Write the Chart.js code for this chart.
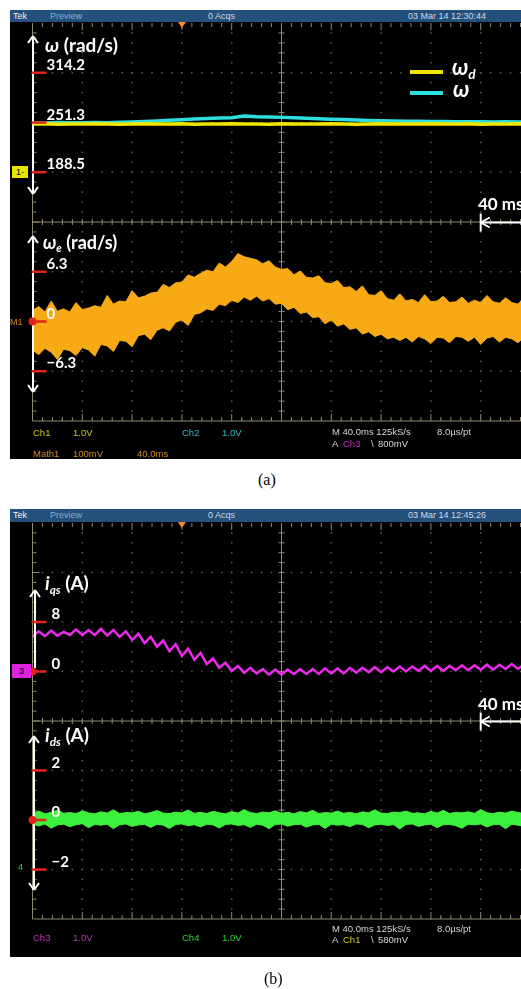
<!DOCTYPE html>
<html>
<head>
<meta charset="utf-8">
<title>Scope captures</title>
<script src="https://cdn.jsdelivr.net/npm/chart.js@4.4.1/dist/chart.umd.min.js"></script>
<style>
  html, body { margin: 0; padding: 0; }
  body { width: 521px; height: 989px; overflow: hidden; position: relative; background: #fff; font-family: "Liberation Sans", Arial, sans-serif; }
  .abs { position: absolute; white-space: nowrap; line-height: 1; }
  .panel { position: absolute; left: 10px; width: 511px; background: #000; }
  .hdr { position: absolute; left: 10px; width: 511px; height: 12px; background: #24507c; }
  .hdr span { position: absolute; top: 0; font-size: 9px; line-height: 12px; color: #cfd9e4; white-space: nowrap; }
  canvas { position: absolute; left: 0; }
  .lab { font-family: Lato, "Open Sans", sans-serif; font-weight: bold; color: #fff; }
  .lab sub { font-size: 0.62em; vertical-align: -0.3em; line-height: 0; }
  .st { font-size: 9.5px; color: #d6d6d6; }
  .cap { font-family: "Liberation Serif", "Times New Roman", serif; font-size: 16px; color: #000; }
</style>
</head>
<body>
<div class="panel" style="top:10px;height:449px"></div>
<div class="hdr" style="top:10px">
  <span style="left:3px;color:#eef3f8">Tek</span>
  <span style="left:40px;color:#86acd2">Preview</span>
  <span style="left:198px">0 Acqs</span>
  <span style="left:398px">03 Mar 14 12:30:44</span>
</div>
<div class="panel" style="top:509px;height:448px"></div>
<div class="hdr" style="top:509px;height:13px">
  <span style="left:3px;color:#eef3f8">Tek</span>
  <span style="left:40px;color:#86acd2">Preview</span>
  <span style="left:198px">0 Acqs</span>
  <span style="left:398px">03 Mar 14 12:45:26</span>
</div>

<canvas id="chartA" width="540" height="470" style="top:0"></canvas>
<canvas id="chartB" width="540" height="470" style="top:500px"></canvas>

<!-- panel (a) labels -->
<div class="abs lab" style="left:45px;top:35px;font-size:19px"><i>ω</i> (rad/s)</div>
<div class="abs" style="left:410px;top:70px;width:33px;height:4px;background:#f0e600"></div>
<div class="abs lab" style="left:452px;top:56px;font-size:22px"><i>ω<sub>d</sub></i></div>
<div class="abs" style="left:410px;top:91px;width:33px;height:4px;background:#2fdede"></div>
<div class="abs lab" style="left:453px;top:78px;font-size:22px"><i>ω</i></div>
<div class="abs" style="left:12px;top:166px;width:16px;height:12px;background:#e6e600;color:#000;font-size:9px;line-height:12px;text-align:center">1-</div>
<div class="abs lab" style="left:478px;top:195px;font-size:17px">40 ms</div>
<div class="abs lab" style="left:43px;top:233px;font-size:18px"><i>ω<sub>e</sub></i> (rad/s)</div>
<div class="abs st" style="left:10px;top:318px;font-size:9px;color:#e08a1c">M1</div>
<div class="abs st" style="left:33px;top:428px;color:#c9c92a">Ch1</div>
<div class="abs st" style="left:73px;top:428px;color:#c9c92a">1.0V</div>
<div class="abs st" style="left:182px;top:428px;color:#2cbcc8">Ch2</div>
<div class="abs st" style="left:222px;top:428px;color:#2cbcc8">1.0V</div>
<div class="abs st" style="left:332px;top:427px">M 40.0ms 125kS/s</div>
<div class="abs st" style="left:437px;top:427px">8.0µs/pt</div>
<div class="abs st" style="left:332px;top:439px">A</div>
<div class="abs st" style="left:343px;top:439px;color:#c62fc6">Ch3</div>
<div class="abs st" style="left:371px;top:439px">\</div>
<div class="abs st" style="left:378px;top:439px">800mV</div>
<div class="abs st" style="left:33px;top:449px;color:#d48c22">Math1</div>
<div class="abs st" style="left:73px;top:449px;color:#d48c22">100mV</div>
<div class="abs st" style="left:137px;top:449px;color:#d48c22">40.0ms</div>
<div class="abs cap" style="left:258px;top:472px">(a)</div>

<!-- panel (b) labels -->
<div class="abs lab" style="left:45px;top:573px;font-size:19px"><i>i<sub>qs</sub></i> (A)</div>
<div class="abs" style="left:12px;top:664px;width:19px;height:14px;background:#e020e0;color:#000;font-size:9px;line-height:14px;text-align:center">3</div>
<div class="abs lab" style="left:478px;top:695px;font-size:17px">40 ms</div>
<div class="abs lab" style="left:45px;top:725px;font-size:19px"><i>i<sub>ds</sub></i> (A)</div>
<div class="abs st" style="left:18px;top:863px;font-size:9px;color:#2ed82e">4</div>
<div class="abs st" style="left:33px;top:933px;color:#c62fc6">Ch3</div>
<div class="abs st" style="left:73px;top:933px;color:#c62fc6">1.0V</div>
<div class="abs st" style="left:182px;top:933px;color:#2ed82e">Ch4</div>
<div class="abs st" style="left:222px;top:933px;color:#2ed82e">1.0V</div>
<div class="abs st" style="left:332px;top:924px">M 40.0ms 125kS/s</div>
<div class="abs st" style="left:437px;top:924px">8.0µs/pt</div>
<div class="abs st" style="left:332px;top:935px">A</div>
<div class="abs st" style="left:343px;top:935px;color:#c9c92a">Ch1</div>
<div class="abs st" style="left:371px;top:935px">\</div>
<div class="abs st" style="left:378px;top:935px">580mV</div>
<div class="abs cap" style="left:264px;top:971px">(b)</div>

<script>
// sample times (ms), 10 divisions of 40 ms
const timeFine = [0, 5, 10, 15, 20, 25, 30, 35, 40, 45,
  50, 55, 60, 65, 70, 75, 80, 85, 90, 95,
  100, 105, 110, 115, 120, 125, 130, 135, 140, 145,
  150, 155, 160, 165, 170, 175, 180, 185, 190, 195,
  200, 205, 210, 215, 220, 225, 230, 235, 240, 245,
  250, 255, 260, 265, 270, 275, 280, 285, 290, 295,
  300, 305, 310, 315, 320, 325, 330, 335, 340, 345,
  350, 355, 360, 365, 370, 375, 380, 385, 390, 395, 400];
const timeCoarse = [0, 10, 20, 30, 40, 50, 60, 70, 80, 90,
  100, 110, 120, 130, 140, 150, 160, 170, 180, 190,
  200, 210, 220, 230, 240, 250, 260, 270, 280, 290,
  300, 310, 320, 330, 340, 350, 360, 370, 380, 390, 400];

// (a) speed reference and measured speed, rad/s
const omegaRef = [249.4, 249.6, 249.2, 249.5, 249.3, 249.7, 249.4, 249.2, 249.5, 249.6,
  249.3, 249.4, 249.7, 249.2, 249.5, 249.4, 249.6, 249.3, 249.5, 249.2,
  249.6, 249.4, 249.5, 249.3, 249.7, 249.4, 249.2, 249.5, 249.6, 249.3,
  249.4, 249.5, 249.7, 249.3, 249.4, 249.6, 249.2, 249.5, 249.4, 249.6, 249.3];
const omegaMeas = [251.0, 250.8, 251.2, 250.9, 251.1, 251.3, 251.0, 251.6, 252.0, 252.6,
  253.3, 254.1, 254.8, 255.6, 256.3, 256.9, 257.4, 259.6, 258.6, 258.3,
  257.8, 257.2, 256.8, 256.1, 255.5, 255.0, 254.5, 254.0, 253.6, 253.3,
  253.0, 252.8, 252.7, 252.5, 252.4, 252.3, 252.2, 252.1, 252.2, 252.0, 252.1];

// (a) speed error band, rad/s (upper / lower edge of the trace)
const errUpper = [1.4, 1.9, 1.2, 2.6, 1.3, 1.6, 1.2, 2.4, 1.5, 1.7,
  2.0, 1.8, 3.3, 2.2, 2.6, 2.5, 3.9, 3.0, 3.2, 3.6,
  3.7, 4.7, 4.3, 4.9, 5.0, 5.9, 5.6, 6.1, 6.5, 6.3,
  7.4, 6.9, 7.6, 8.6, 8.2, 8.0, 7.8, 7.3, 7.7, 6.9,
  6.6, 6.7, 5.9, 6.4, 5.6, 5.5, 5.8, 4.9, 4.8, 5.2,
  4.3, 4.4, 3.8, 4.5, 3.4, 3.3, 3.9, 2.9, 2.7, 3.5,
  2.6, 2.8, 2.4, 3.4, 2.5, 2.6, 3.2, 2.4, 2.5, 3.1,
  2.3, 2.7, 2.4, 3.3, 2.5, 2.3, 3.0, 2.4, 2.2, 3.1, 2.4];
const errLower = [-3.6, -4.2, -3.4, -3.9, -4.8, -3.5, -3.7, -4.3, -3.3, -3.6,
  -4.4, -2.9, -3.1, -3.8, -2.4, -2.5, -3.2, -1.8, -1.6, -2.3,
  -1.1, -0.8, -1.2, -0.1, 0.2, -0.5, 0.9, 1.1, 1.6, 1.4,
  2.2, 2.0, 2.7, 2.4, 3.1, 2.7, 3.2, 2.6, 2.9, 2.2,
  2.3, 1.5, 1.8, 1.0, 1.2, 0.5, 0.6, -0.3, 0.2, -0.6,
  -0.3, -1.0, -0.8, -1.6, -1.3, -1.9, -1.6, -2.2, -2.0, -2.4,
  -2.0, -2.6, -1.9, -2.2, -2.8, -2.0, -2.1, -2.7, -1.9, -2.0,
  -2.5, -2.0, -2.9, -2.1, -1.9, -2.6, -2.0, -2.2, -2.7, -1.9, -2.3];

// (b) q-axis current, A
const iqs = [5.6, 6.5, 5.7, 6.6, 5.8, 6.4, 5.9, 6.8, 5.9, 6.7,
  5.9, 6.9, 5.8, 6.7, 5.6, 6.5, 5.1, 6.1, 4.6, 5.6,
  4.0, 5.0, 3.3, 4.4, 2.5, 3.7, 1.9, 3.0, 1.2, 2.1,
  0.6, 1.4, 0.1, 0.9, -0.2, 0.6, -0.3, 0.4, -0.5, 0.3,
  -0.5, 0.3, -0.4, 0.4, -0.4, 0.4, -0.4, 0.5, -0.3, 0.5,
  -0.3, 0.6, -0.2, 0.6, -0.1, 0.7, -0.1, 0.7, 0.0, 0.8,
  0.0, 0.8, 0.1, 0.9, 0.1, 0.9, 0.1, 0.9, 0.2, 1.0,
  0.2, 1.0, 0.3, 1.1, 0.3, 1.1, 0.4, 1.2, 0.4, 1.2, 0.4];

// (b) d-axis current band, A
const idsUpper = [0.28, 0.36, 0.25, 0.31, 0.40, 0.27, 0.30, 0.26, 0.37, 0.29,
  0.25, 0.33, 0.28, 0.41, 0.26, 0.30, 0.29, 0.35, 0.25, 0.30,
  0.38, 0.28, 0.26, 0.32, 0.29, 0.40, 0.27, 0.31, 0.26, 0.35,
  0.29, 0.25, 0.34, 0.28, 0.42, 0.30, 0.26, 0.32, 0.29, 0.37,
  0.27, 0.31, 0.25, 0.34, 0.29, 0.39, 0.26, 0.30, 0.28, 0.36,
  0.27, 0.31, 0.25, 0.33, 0.29, 0.41, 0.28, 0.26, 0.32, 0.30,
  0.36, 0.27, 0.29, 0.25, 0.35, 0.28, 0.39, 0.26, 0.31, 0.29,
  0.33, 0.27, 0.42, 0.29, 0.26, 0.32, 0.28, 0.36, 0.30, 0.26, 0.31];
const idsLower = [-0.18, -0.24, -0.16, -0.33, -0.20, -0.17, -0.27, -0.19, -0.15, -0.31,
  -0.18, -0.21, -0.17, -0.35, -0.19, -0.16, -0.26, -0.20, -0.18, -0.30,
  -0.17, -0.21, -0.34, -0.18, -0.16, -0.23, -0.19, -0.28, -0.17, -0.20,
  -0.32, -0.18, -0.16, -0.22, -0.19, -0.30, -0.17, -0.21, -0.35, -0.18,
  -0.16, -0.25, -0.19, -0.17, -0.29, -0.20, -0.18, -0.34, -0.17, -0.21,
  -0.19, -0.27, -0.16, -0.18, -0.31, -0.20, -0.17, -0.22, -0.19, -0.36,
  -0.18, -0.16, -0.26, -0.20, -0.17, -0.31, -0.19, -0.18, -0.23, -0.33,
  -0.17, -0.20, -0.16, -0.28, -0.19, -0.18, -0.35, -0.17, -0.21, -0.26, -0.18];

// marked levels on each trace
const omegaTicks = [188.5, 251.3, 314.2];
const omegaTickText = ['188.5', '251.3', '314.2'];
const errTicks = [-6.3, 0, 6.3];
const errTickText = ['\u22126.3', '0', '6.3'];
const iqsTicks = [0, 8];
const iqsTickText = ['0', '8'];
const idsTicks = [-2, 0, 2];
const idsTickText = ['\u22122', '0', '2'];

const pts = (t, v) => t.map((x, i) => ({ x: x, y: v[i] }));

// graticule, marker ticks, arrows - scope screen decoration
const scopePlugin = {
  id: 'scope',
  beforeDatasetsDraw(chart) {
    const { ctx, chartArea: a } = chart;
    const dx = (a.right - a.left) / 10;
    const dy = (a.bottom - a.top) / 8;
    const cx = a.left + 5 * dx, cy = a.top + 4 * dy;
    ctx.save();
    ctx.fillStyle = '#5e5e54';
    for (let i = 1; i < 10; i++) {
      if (i === 5) continue;
      for (let k = 1; k < 40; k++) ctx.fillRect(a.left + i * dx - 0.75, a.top + k * dy / 5 - 0.75, 1.5, 1.5);
    }
    for (let j = 1; j < 8; j++) {
      if (j === 4) continue;
      for (let k = 1; k < 50; k++) ctx.fillRect(a.left + k * dx / 5 - 0.75, a.top + j * dy - 0.75, 1.5, 1.5);
    }
    ctx.strokeStyle = '#8e8a72';
    ctx.lineWidth = 1;
    const seg = (x1, y1, x2, y2) => { ctx.beginPath(); ctx.moveTo(x1, y1); ctx.lineTo(x2, y2); ctx.stroke(); };
    seg(cx, a.top, cx, a.bottom);
    seg(a.left, cy, a.right, cy);
    seg(a.left, a.top, a.left, a.bottom);
    seg(a.left, a.bottom, a.right, a.bottom);
    for (let k = 1; k < 50; k++) {
      const x = a.left + k * dx / 5;
      const len = k % 5 === 0 ? 7 : 4;
      seg(x, cy - 3, x, cy + 3);
      seg(x, a.bottom, x, a.bottom - len);
      seg(x, a.top, x, a.top + len);
    }
    for (let k = 1; k < 40; k++) {
      const y = a.top + k * dy / 5;
      seg(cx - 3, y, cx + 3, y);
      seg(a.left, y, a.left + (k % 5 === 0 ? 7 : 4), y);
    }
    // trigger position
    const tx = a.left + 3 * dx;
    ctx.fillStyle = '#f08a24';
    ctx.beginPath();
    ctx.moveTo(tx - 4, a.top - 1);
    ctx.lineTo(tx + 4, a.top - 1);
    ctx.lineTo(tx, a.top + 5);
    ctx.fill();
    ctx.restore();
  },
  afterDatasetsDraw(chart, args, opts) {
    const { ctx, chartArea: a } = chart;
    const dx = (a.right - a.left) / 10;
    ctx.save();
    ctx.strokeStyle = '#fff';
    ctx.lineWidth = 2;
    const seg = (x1, y1, x2, y2) => { ctx.beginPath(); ctx.moveTo(x1, y1); ctx.lineTo(x2, y2); ctx.stroke(); };
    (opts.arrows || []).forEach(ar => {
      seg(ar.x, ar.y1, ar.x, ar.y2);
      if (ar.up) { seg(ar.x, ar.y1, ar.x - 5, ar.y1 + 7); seg(ar.x, ar.y1, ar.x + 5, ar.y1 + 7); }
      if (ar.down) { seg(ar.x, ar.y2, ar.x - 5, ar.y2 - 7); seg(ar.x, ar.y2, ar.x + 5, ar.y2 - 7); }
    });
    // 40 ms time bar
    const bx = a.left + 9 * dx, by = opts.barY;
    seg(bx, by - 9, bx, by + 9);
    seg(bx, by, chart.width, by);
    seg(bx, by, bx + 9, by - 5);
    seg(bx, by, bx + 9, by + 5);
    (opts.marks || []).forEach(m => {
      const sc = chart.scales[m.axis];
      m.values.forEach((v, i) => {
        const y = sc.getPixelForValue(v);
        ctx.fillStyle = '#e3231c';
        ctx.fillRect(a.left - 1, y - 1.25, 15, 2.5);
        ctx.fillStyle = '#fff';
        ctx.font = 'bold 15px Lato, sans-serif';
        ctx.fillText(m.labels[i], a.left + opts.labelX, y - 3);
      });
    });
    (opts.dots || []).forEach(d => {
      const y = chart.scales[d.axis].getPixelForValue(d.value);
      ctx.fillStyle = '#e3231c';
      ctx.beginPath();
      ctx.arc(a.left, y, 4, 0, Math.PI * 2);
      ctx.fill();
    });
    ctx.restore();
  }
};

const orange = 'rgb(248, 170, 22)';

const chartA = new Chart(document.getElementById('chartA'), {
  type: 'line',
  data: {
    datasets: [
      { label: 'ωe upper', data: pts(timeFine, errUpper), yAxisID: 'ye', borderColor: orange, backgroundColor: orange, borderWidth: 1, fill: '+1', order: 3 },
      { label: 'ωe lower', data: pts(timeFine, errLower), yAxisID: 'ye', borderColor: orange, borderWidth: 1, fill: false, order: 3 },
      { label: 'ω', data: pts(timeCoarse, omegaMeas), yAxisID: 'yw', borderColor: '#2fdede', borderWidth: 3.5, fill: false, order: 2 },
      { label: 'ωd', data: pts(timeCoarse, omegaRef), yAxisID: 'yw', borderColor: '#f0e600', borderWidth: 3.5, fill: false, order: 1 }
    ]
  },
  options: {
    responsive: false,
    animation: false,
    events: [],
    layout: { padding: { left: 32.5, top: 23, right: 9.5, bottom: 49 } },
    elements: { point: { radius: 0 }, line: { tension: 0 } },
    plugins: {
      legend: { display: false },
      tooltip: { enabled: false },
      scope: {
        labelX: 14,
        barY: 222.5,
        marks: [
          { axis: 'yw', values: omegaTicks, labels: omegaTickText },
          { axis: 'ye', values: errTicks, labels: errTickText }
        ],
        dots: [{ axis: 'ye', value: 0 }],
        arrows: [
          { x: 33, y1: 36, y2: 194, up: true, down: true },
          { x: 33, y1: 236, y2: 392, up: true, down: true }
        ]
      }
    },
    scales: {
      x: { type: 'linear', display: false, min: 0, max: 400 },
      yw: { type: 'linear', display: false, min: -125.66, max: 376.99 },
      ye: { type: 'linear', display: false, min: -12.6, max: 37.8 }
    }
  },
  plugins: [scopePlugin]
});

const chartB = new Chart(document.getElementById('chartB'), {
  type: 'line',
  data: {
    datasets: [
      { label: 'iqs', data: pts(timeFine, iqs), yAxisID: 'yq', borderColor: 'rgb(236, 42, 236)', borderWidth: 2.5, fill: false },
      { label: 'ids upper', data: pts(timeFine, idsUpper), yAxisID: 'yd', borderColor: '#3df03d', backgroundColor: '#3df03d', borderWidth: 1, fill: '+1' },
      { label: 'ids lower', data: pts(timeFine, idsLower), yAxisID: 'yd', borderColor: '#3df03d', borderWidth: 1, fill: false }
    ]
  },
  options: {
    responsive: false,
    animation: false,
    events: [],
    layout: { padding: { left: 32.5, top: 23, right: 9.5, bottom: 51 } },
    elements: { point: { radius: 0 }, line: { tension: 0 } },
    plugins: {
      legend: { display: false },
      tooltip: { enabled: false },
      scope: {
        labelX: 19,
        barY: 221.5,
        marks: [
          { axis: 'yq', values: iqsTicks, labels: iqsTickText },
          { axis: 'yd', values: idsTicks, labels: idsTickText }
        ],
        dots: [{ axis: 'yq', value: 0 }, { axis: 'yd', value: 0 }],
        arrows: [
          { x: 35, y1: 90, y2: 168, up: true, down: false },
          { x: 34, y1: 236, y2: 390, up: true, down: true }
        ]
      }
    },
    scales: {
      x: { type: 'linear', display: false, min: 0, max: 400 },
      yq: { type: 'linear', display: false, min: -40, max: 24 },
      yd: { type: 'linear', display: false, min: -4, max: 12 }
    }
  },
  plugins: [scopePlugin]
});
</script>
</body>
</html>
